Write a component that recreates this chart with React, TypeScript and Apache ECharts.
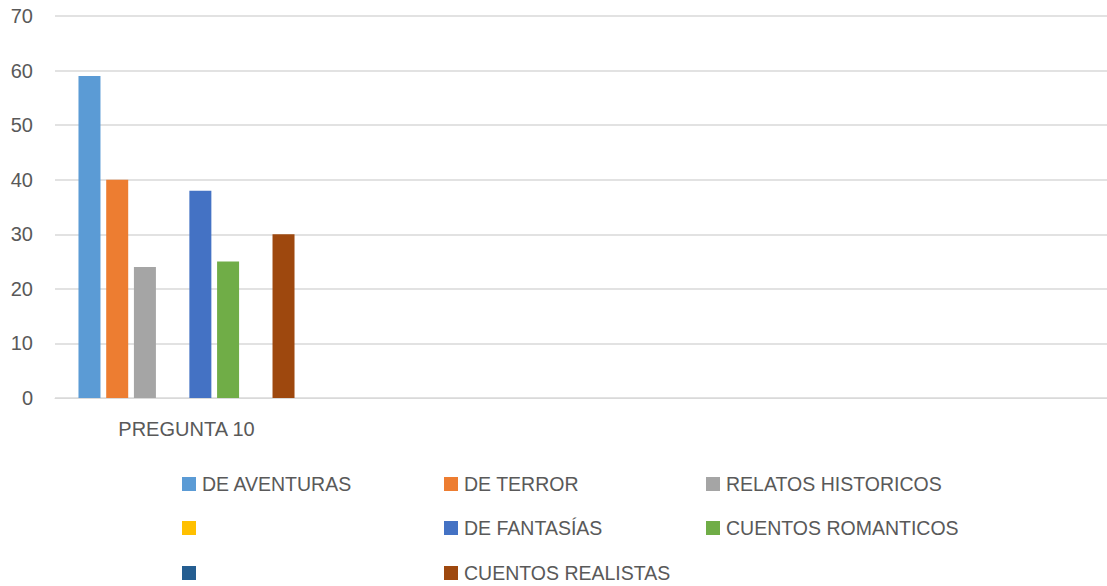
import React, { useEffect, useRef } from "react";
import * as echarts from "echarts";

const categories = ["PREGUNTA 10", "", "", ""];
const seriesNames = [
  "DE AVENTURAS",
  "DE TERROR",
  "RELATOS HISTORICOS",
  " ",
  "DE FANTASÍAS",
  "CUENTOS ROMANTICOS",
  "  ",
  "CUENTOS REALISTAS",
];
const seriesValues = [59, 40, 24, 0, 38, 25, 0, 30];
const seriesColors = [
  "#5B9BD5",
  "#ED7D31",
  "#A5A5A5",
  "#FFC000",
  "#4472C4",
  "#70AD47",
  "#255E91",
  "#9E480E",
];
const yTicks = { min: 0, max: 70, interval: 10 };

const legendCols = [182, 444, 706];
const legendRows = [484, 528, 573];

export default function App() {
  const ref = useRef<HTMLDivElement>(null);
  useEffect(() => {
    if (!ref.current) return;
    const chart = echarts.init(ref.current, undefined, { renderer: "svg" });
    const textColor = "#595959";
    const font = "Liberation Sans";
    const legends = seriesNames.map((name, i) => {
      const empty = name.trim() === "";
      return {
        show: true,
        data: [name],
        left: legendCols[i % 3],
        top: legendRows[Math.floor(i / 3)] - (empty ? 7 : 11),
        orient: "horizontal",
        itemWidth: 14,
        itemHeight: 14,
        icon: "rect",
        padding: 0,
        selectedMode: false,
        formatter: (n: string) => n.trim(),
        textStyle: { color: textColor, fontSize: 19.5, fontFamily: font, lineHeight: 22, padding: [0, 0, 0, 1] },
      };
    });
    chart.setOption({
      animation: false,
      backgroundColor: "#ffffff",
      grid: { left: 55, right: 0, top: 16, bottom: 188, containLabel: false },
      legend: legends,
      xAxis: {
        type: "category",
        data: categories,
        axisLine: { show: true, lineStyle: { color: "#D9D9D9", width: 1 } },
        axisTick: { show: false },
        axisLabel: { color: textColor, fontSize: 20, fontFamily: font, margin: 21 },
        splitLine: { show: false },
      },
      yAxis: {
        type: "value",
        min: yTicks.min,
        max: yTicks.max,
        interval: yTicks.interval,
        axisLine: { show: false },
        axisTick: { show: false },
        axisLabel: { color: textColor, fontSize: 20, fontFamily: font, margin: 22 },
        splitLine: { lineStyle: { color: "#D9D9D9", width: 1.5 } },
      },
      series: seriesNames.map((name, i) => ({
        type: "bar",
        name,
        data: [seriesValues[i]],
        barWidth: 22,
        barGap: "26%",
        itemStyle: { color: seriesColors[i] },
        color: seriesColors[i],
      })),
    });
    return () => chart.dispose();
  }, []);
  return (
    <div
      ref={ref}
      style={{ position: "fixed", left: 0, top: 0, width: 1107, height: 586 }}
    />
  );
}
